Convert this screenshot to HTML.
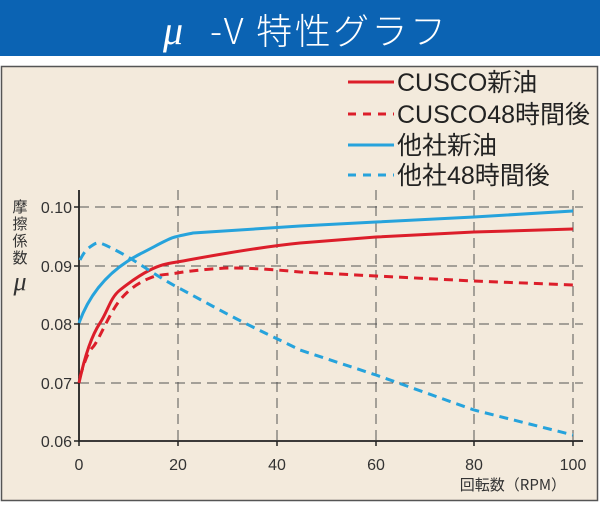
<!DOCTYPE html>
<html><head><meta charset="utf-8"><style>
body{margin:0;width:600px;height:506px;background:#fff;overflow:hidden}
</style></head><body>
<svg width="600" height="506" xmlns="http://www.w3.org/2000/svg" font-family="Liberation Sans, Noto Sans CJK JP, sans-serif">
<rect x="0" y="0" width="600" height="56" fill="#0b63b3"/>
<text x="163" y="44" font-size="40" font-style="italic" fill="#fff" font-family="Liberation Serif, serif">μ</text>
<text x="210" y="44" font-size="36" fill="#fff" font-family="Noto Sans CJK JP, sans-serif" font-weight="300" textLength="236" lengthAdjust="spacing">-V 特性グラフ</text>
<rect x="1.5" y="66.5" width="596" height="434" fill="#f3eadc" stroke="#555" stroke-width="1.5"/>
<g stroke="#555" stroke-width="1" stroke-dasharray="10,6" fill="none">
<path d="M79 207H583M79 266H583M79 324H583M79 383H583"/>
<path d="M178 190V441M277 190V441M376 190V441M474 190V441M573 190V441"/>
</g>
<path d="M79 190V441H583" stroke="#222" stroke-width="1.8" fill="none"/>
<g stroke="#222" stroke-width="1.5"><path d="M74 207H79M74 266H79M74 324H79M74 383H79M74 441H79M79 441V446M178 441V446M277 441V446M376 441V446M474 441V446M573 441V446"/></g>
<g font-size="16" fill="#333" text-anchor="end">
<text x="72" y="213">0.10</text><text x="72" y="272">0.09</text><text x="72" y="330">0.08</text><text x="72" y="389">0.07</text><text x="72" y="447">0.06</text>
</g>
<g font-size="16" fill="#333" text-anchor="middle">
<text x="79" y="470">0</text><text x="178" y="470">20</text><text x="277" y="470">40</text><text x="376" y="470">60</text><text x="474" y="470">80</text><text x="573" y="470">100</text>
</g>
<text x="566" y="490" font-size="15" fill="#333" text-anchor="end" font-family="Noto Sans CJK JP, sans-serif">回転数（RPM）</text>
<g font-size="15" fill="#333" text-anchor="middle" font-family="Noto Sans CJK JP, sans-serif">
<text x="20" y="212">摩</text><text x="20" y="229">擦</text><text x="20" y="246">係</text><text x="20" y="263">数</text>
</g>
<text x="20" y="290" font-size="26" font-style="italic" fill="#333" text-anchor="middle" font-family="Liberation Serif, serif">μ</text>
<g fill="none" stroke-width="3">
<path d="M79 323C88 298 105 272 140 254S168 238 193 233L300 226 376 222 474 217 573 211" stroke="#26a3dc"/>
<path d="M79 383C85 355 92 335 100 323S110 298 120 290 140 275 150 270 165 264 177 262 250 248 300 243L376 237 474 232 573 229" stroke="#dc1e2a"/>
<path d="M80 377C85 360 88 352 93 347S110 312 120 300 140 282 150 278 165 275 177 273 215 268 233 268 280 270 300 272L376 276 474 281 573 285" stroke="#dc1e2a" stroke-dasharray="9,6"/>
<path d="M80 260C84 252 87 249 90 247S96 242 100 243 120 252 133 260 160 278 177 287 210 305 233 317 280 340 300 350L376 375 474 410 573 435" stroke="#26a3dc" stroke-dasharray="9,6"/>
</g>
<g stroke-width="3">
<path d="M348 82H394" stroke="#dc1e2a"/>
<path d="M348 114H394" stroke="#dc1e2a" stroke-dasharray="8,7"/>
<path d="M348 145H394" stroke="#26a3dc"/>
<path d="M348 175H394" stroke="#26a3dc" stroke-dasharray="8,7"/>
</g>
<g font-size="25" fill="#222" font-family="Liberation Sans, Noto Sans CJK JP, sans-serif">
<text x="397" y="91">CUSCO新油</text>
<text x="397" y="123" textLength="193" lengthAdjust="spacingAndGlyphs">CUSCO48時間後</text>
<text x="397" y="154">他社新油</text>
<text x="397" y="184">他社48時間後</text>
</g>
</svg>
</body></html>
